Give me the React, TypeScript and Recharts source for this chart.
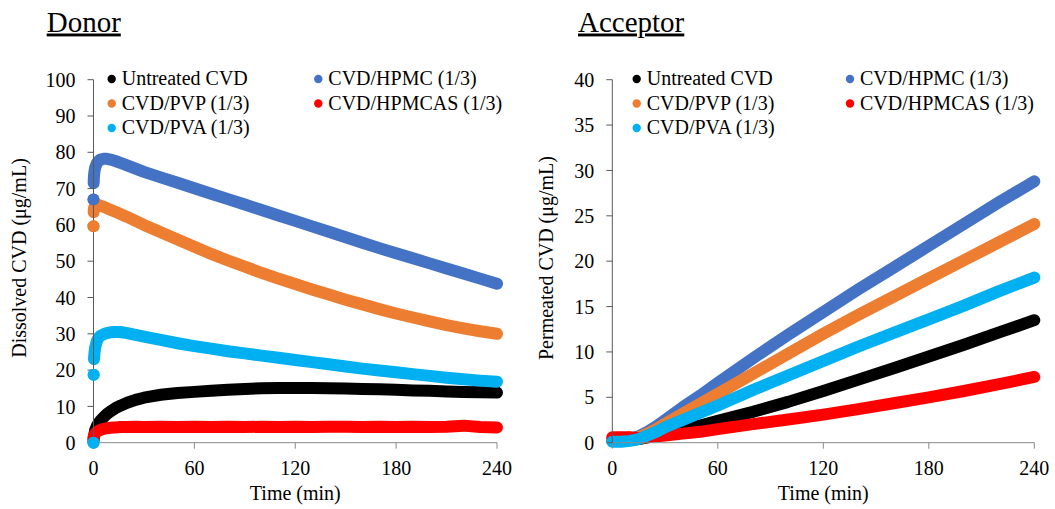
import { LineChart, Line, XAxis, YAxis } from "recharts"

// series order as in the legend (row-wise): Untreated, HPMC, PVP, HPMCAS, PVA
const seriesNames = ["Untreated CVD", "CVD/HPMC (1/3)", "CVD/PVP (1/3)", "CVD/HPMCAS (1/3)", "CVD/PVA (1/3)"]
const seriesColors = ["#000000", "#4472C4", "#ED7D31", "#FF0000", "#00B0F0"]
const timeTicks = [0, 60, 120, 180, 240]
const donorTicks = [0, 10, 20, 30, 40, 50, 60, 70, 80, 90, 100]
const acceptorTicks = [0, 5, 10, 15, 20, 25, 30, 35, 40]

// Donor (min)
const donorTime = [0, 0.05, 0.1, 0.2, 0.3, 0.6, 1, 2, 3, 4, 6, 8, 10, 13, 16, 20, 25, 30, 40, 50, 60, 70, 80, 90, 100, 110, 120, 130, 140, 150, 160, 170, 180, 190, 200, 210, 220, 230, 240]
const donorUntreated = [0.5, 0.8, 1.1, 1.5, 1.8, 2.4, 3.5, 4.6, 5.4, 6.0, 7.0, 7.9, 8.6, 9.5, 10.2, 11.0, 11.8, 12.4, 13.2, 13.7, 14.0, 14.3, 14.6, 14.8, 15.0, 15.1, 15.1, 15.1, 15.0, 14.9, 14.8, 14.7, 14.6, 14.4, 14.3, 14.1, 14.0, 13.9, 13.8]
const donorHPMC = [67.0, null, 71.5, 72.8, 73.6, 74.8, 75.8, 77.0, 77.6, 78.0, 78.2, 78.2, 78.0, 77.6, 77.1, 76.4, 75.5, 74.6, 73.1, 71.6, 70.1, 68.6, 67.1, 65.6, 64.1, 62.6, 61.1, 59.6, 58.1, 56.6, 55.1, 53.6, 52.2, 50.8, 49.4, 48.0, 46.6, 45.2, 43.8]
const donorPVP = [59.6, null, 63.5, 64.2, 64.6, 65.0, 65.3, 65.6, 65.5, 65.3, 65.0, 64.6, 64.2, 63.6, 63.0, 62.2, 61.1, 60.0, 58.0, 56.0, 54.0, 52.0, 50.2, 48.5, 46.8, 45.2, 43.7, 42.2, 40.8, 39.4, 38.1, 36.8, 35.6, 34.5, 33.4, 32.4, 31.5, 30.7, 30.0]
const donorHPMCAS = [1.2, 1.4, 1.6, 1.8, 2.0, 2.3, 2.6, 3.0, 3.3, 3.5, 3.8, 4.0, 4.1, 4.2, 4.3, 4.3, 4.4, 4.3, 4.4, 4.3, 4.4, 4.3, 4.4, 4.3, 4.4, 4.3, 4.4, 4.3, 4.4, 4.4, 4.3, 4.4, 4.3, 4.4, 4.3, 4.4, 4.7, 4.3, 4.2]
const donorPVA = [0, null, 18.7, null, 23.0, 24.8, 26.2, 28.0, 28.9, 29.4, 29.9, 30.2, 30.4, 30.5, 30.5, 30.2, 29.7, 29.2, 28.3, 27.4, 26.6, 25.9, 25.2, 24.6, 24.0, 23.4, 22.8, 22.2, 21.6, 21.0, 20.4, 19.9, 19.4, 18.9, 18.4, 17.9, 17.5, 17.1, 16.8]

// Acceptor (min)
const acceptorTime = [0, 5, 10, 15, 20, 25, 30, 40, 50, 60, 80, 100, 120, 140, 160, 180, 200, 220, 240]
const acceptorUntreated = [0.3, 0.3, 0.3, 0.4, 0.6, 0.8, 1.0, 1.5, 1.9, 2.4, 3.4, 4.5, 5.7, 6.95, 8.2, 9.5, 10.8, 12.15, 13.5]
const acceptorHPMC = [0.3, 0.3, 0.4, 0.7, 1.2, 1.8, 2.5, 3.9, 5.2, 6.6, 9.3, 11.9, 14.4, 16.9, 19.3, 21.7, 24.1, 26.5, 28.8]
const acceptorPVP = [0.3, 0.3, 0.4, 0.6, 1.0, 1.5, 2.1, 3.2, 4.3, 5.4, 7.6, 9.8, 12.0, 14.1, 16.1, 18.1, 20.1, 22.1, 24.1]
const acceptorHPMCAS = [0.6, 0.6, 0.6, 0.5, 0.6, 0.7, 0.8, 1.0, 1.2, 1.5, 2.05, 2.55, 3.1, 3.7, 4.35, 5.0, 5.7, 6.45, 7.25]
const acceptorPVA = [0.1, 0.1, 0.2, 0.4, 0.8, 1.2, 1.7, 2.5, 3.3, 4.1, 5.8, 7.4, 9.0, 10.6, 12.1, 13.6, 15.1, 16.7, 18.2]

const font = "'Liberation Serif', 'Times New Roman', serif"

function buildRows(time: number[], series: (number | null)[][]) {
	return time.map((t, i) => {
		const row: Record<string, number | null> = { t }
		series.forEach((s, k) => {
			row["s" + k] = s[i]
		})
		return row
	})
}

// a point only needs its own dot when no segment reaches it
function isolated(s: (number | null)[], i: number) {
	if (s[i] == null) return false
	const prev = i > 0 ? s[i - 1] : null
	const next = i < s.length - 1 ? s[i + 1] : null
	return prev == null && next == null
}

const donorSeries = [donorUntreated, donorHPMC, donorPVP, donorHPMCAS, donorPVA]
const acceptorSeries = [acceptorUntreated, acceptorHPMC, acceptorPVP, acceptorHPMCAS, acceptorPVA]
const donorData = buildRows(donorTime, donorSeries)
const acceptorData = buildRows(acceptorTime, acceptorSeries)

type PanelProps = {
	data: Record<string, number | null>[]
	series: (number | null)[][]
	left: number
	width: number
	margin: { top: number; right: number; left: number; bottom: number }
	yMax: number
	yTicks: number[]
}

function Panel({ data, series, left, width, margin, yMax, yTicks }: PanelProps) {
	const tickStyle = { fill: "#000", fontSize: 20, fontFamily: font }
	return (
		<div style={{ position: "absolute", left, top: 0 }}>
			<LineChart width={width} height={509} data={data} margin={margin}>
				<XAxis
					dataKey="t"
					type="number"
					domain={[0, 240]}
					ticks={timeTicks}
					stroke="#898989"
					tick={tickStyle}
					tickSize={6}
					tickMargin={12}
					height={30}
				/>
				<YAxis
					type="number"
					domain={[0, yMax]}
					ticks={yTicks}
					stroke="#595959"
					tick={tickStyle}
					tickSize={6}
					tickMargin={12}
					width={60}
				/>
				{seriesColors.map((c, k) => (
					<Line
						key={k}
						dataKey={"s" + k}
						name={seriesNames[k]}
						type="linear"
						stroke={c}
						strokeWidth={12}
						strokeLinecap="round"
						strokeLinejoin="round"
						dot={(p: any) =>
							isolated(series[k], p.index) ? (
								<circle key={p.index} cx={p.cx} cy={p.cy} r={6} fill={c} />
							) : (
								<g key={p.index} />
							)
						}
						isAnimationActive={false}
					/>
				))}
			</LineChart>
		</div>
	)
}

function LegendBlock({ x1, x2 }: { x1: number; x2: number }) {
	const rows = [85, 109.5, 134]
	const pos = [
		[x1, rows[0]],
		[x2, rows[0]],
		[x1, rows[1]],
		[x2, rows[1]],
		[x1, rows[2]],
	]
	return (
		<g>
			{seriesNames.map((n, k) => (
				<g key={n}>
					<circle cx={pos[k][0]} cy={pos[k][1] - 6} r={4.2} fill={seriesColors[k]} />
					<text x={pos[k][0] + 10} y={pos[k][1]} fontSize={20} fontFamily={font} fill="#000">
						{n}
					</text>
				</g>
			))}
		</g>
	)
}

export default function App() {
	return (
		<div style={{ position: "absolute", left: 0, top: 0, width: 1055, height: 509, background: "#fff", overflow: "hidden" }}>
			<Panel data={donorData} series={donorSeries} left={0} width={530} margin={{ top: 79.7, right: 33, left: 33.5, bottom: 36.3 }} yMax={100} yTicks={donorTicks} />
			<Panel data={acceptorData} series={acceptorSeries} left={527} width={528} margin={{ top: 79.7, right: 20.7, left: 25.3, bottom: 36.3 }} yMax={40} yTicks={acceptorTicks} />
			<svg width={1055} height={509} style={{ position: "absolute", left: 0, top: 0, pointerEvents: "none" }}>
				<text x={46.7} y={31.5} fontSize={29} fontFamily={font} style={{ textDecoration: "underline" }}>Donor</text>
				<text x={578} y={31.5} fontSize={29} fontFamily={font} style={{ textDecoration: "underline" }}>Acceptor</text>
				<text x={295.3} y={500} fontSize={20} fontFamily={font} textAnchor="middle">Time (min)</text>
				<text x={823.3} y={500} fontSize={20} fontFamily={font} textAnchor="middle">Time (min)</text>
				<text x={26} y={258} fontSize={20} fontFamily={font} textAnchor="middle" transform="rotate(-90, 26, 258)">Dissolved CVD (μg/mL)</text>
				<text x={553} y={258} fontSize={20} fontFamily={font} textAnchor="middle" transform="rotate(-90, 553, 258)">Permeated CVD (μg/mL)</text>
				<LegendBlock x1={111.7} x2={318.3} />
				<LegendBlock x1={636.7} x2={850} />
			</svg>
		</div>
	)
}
